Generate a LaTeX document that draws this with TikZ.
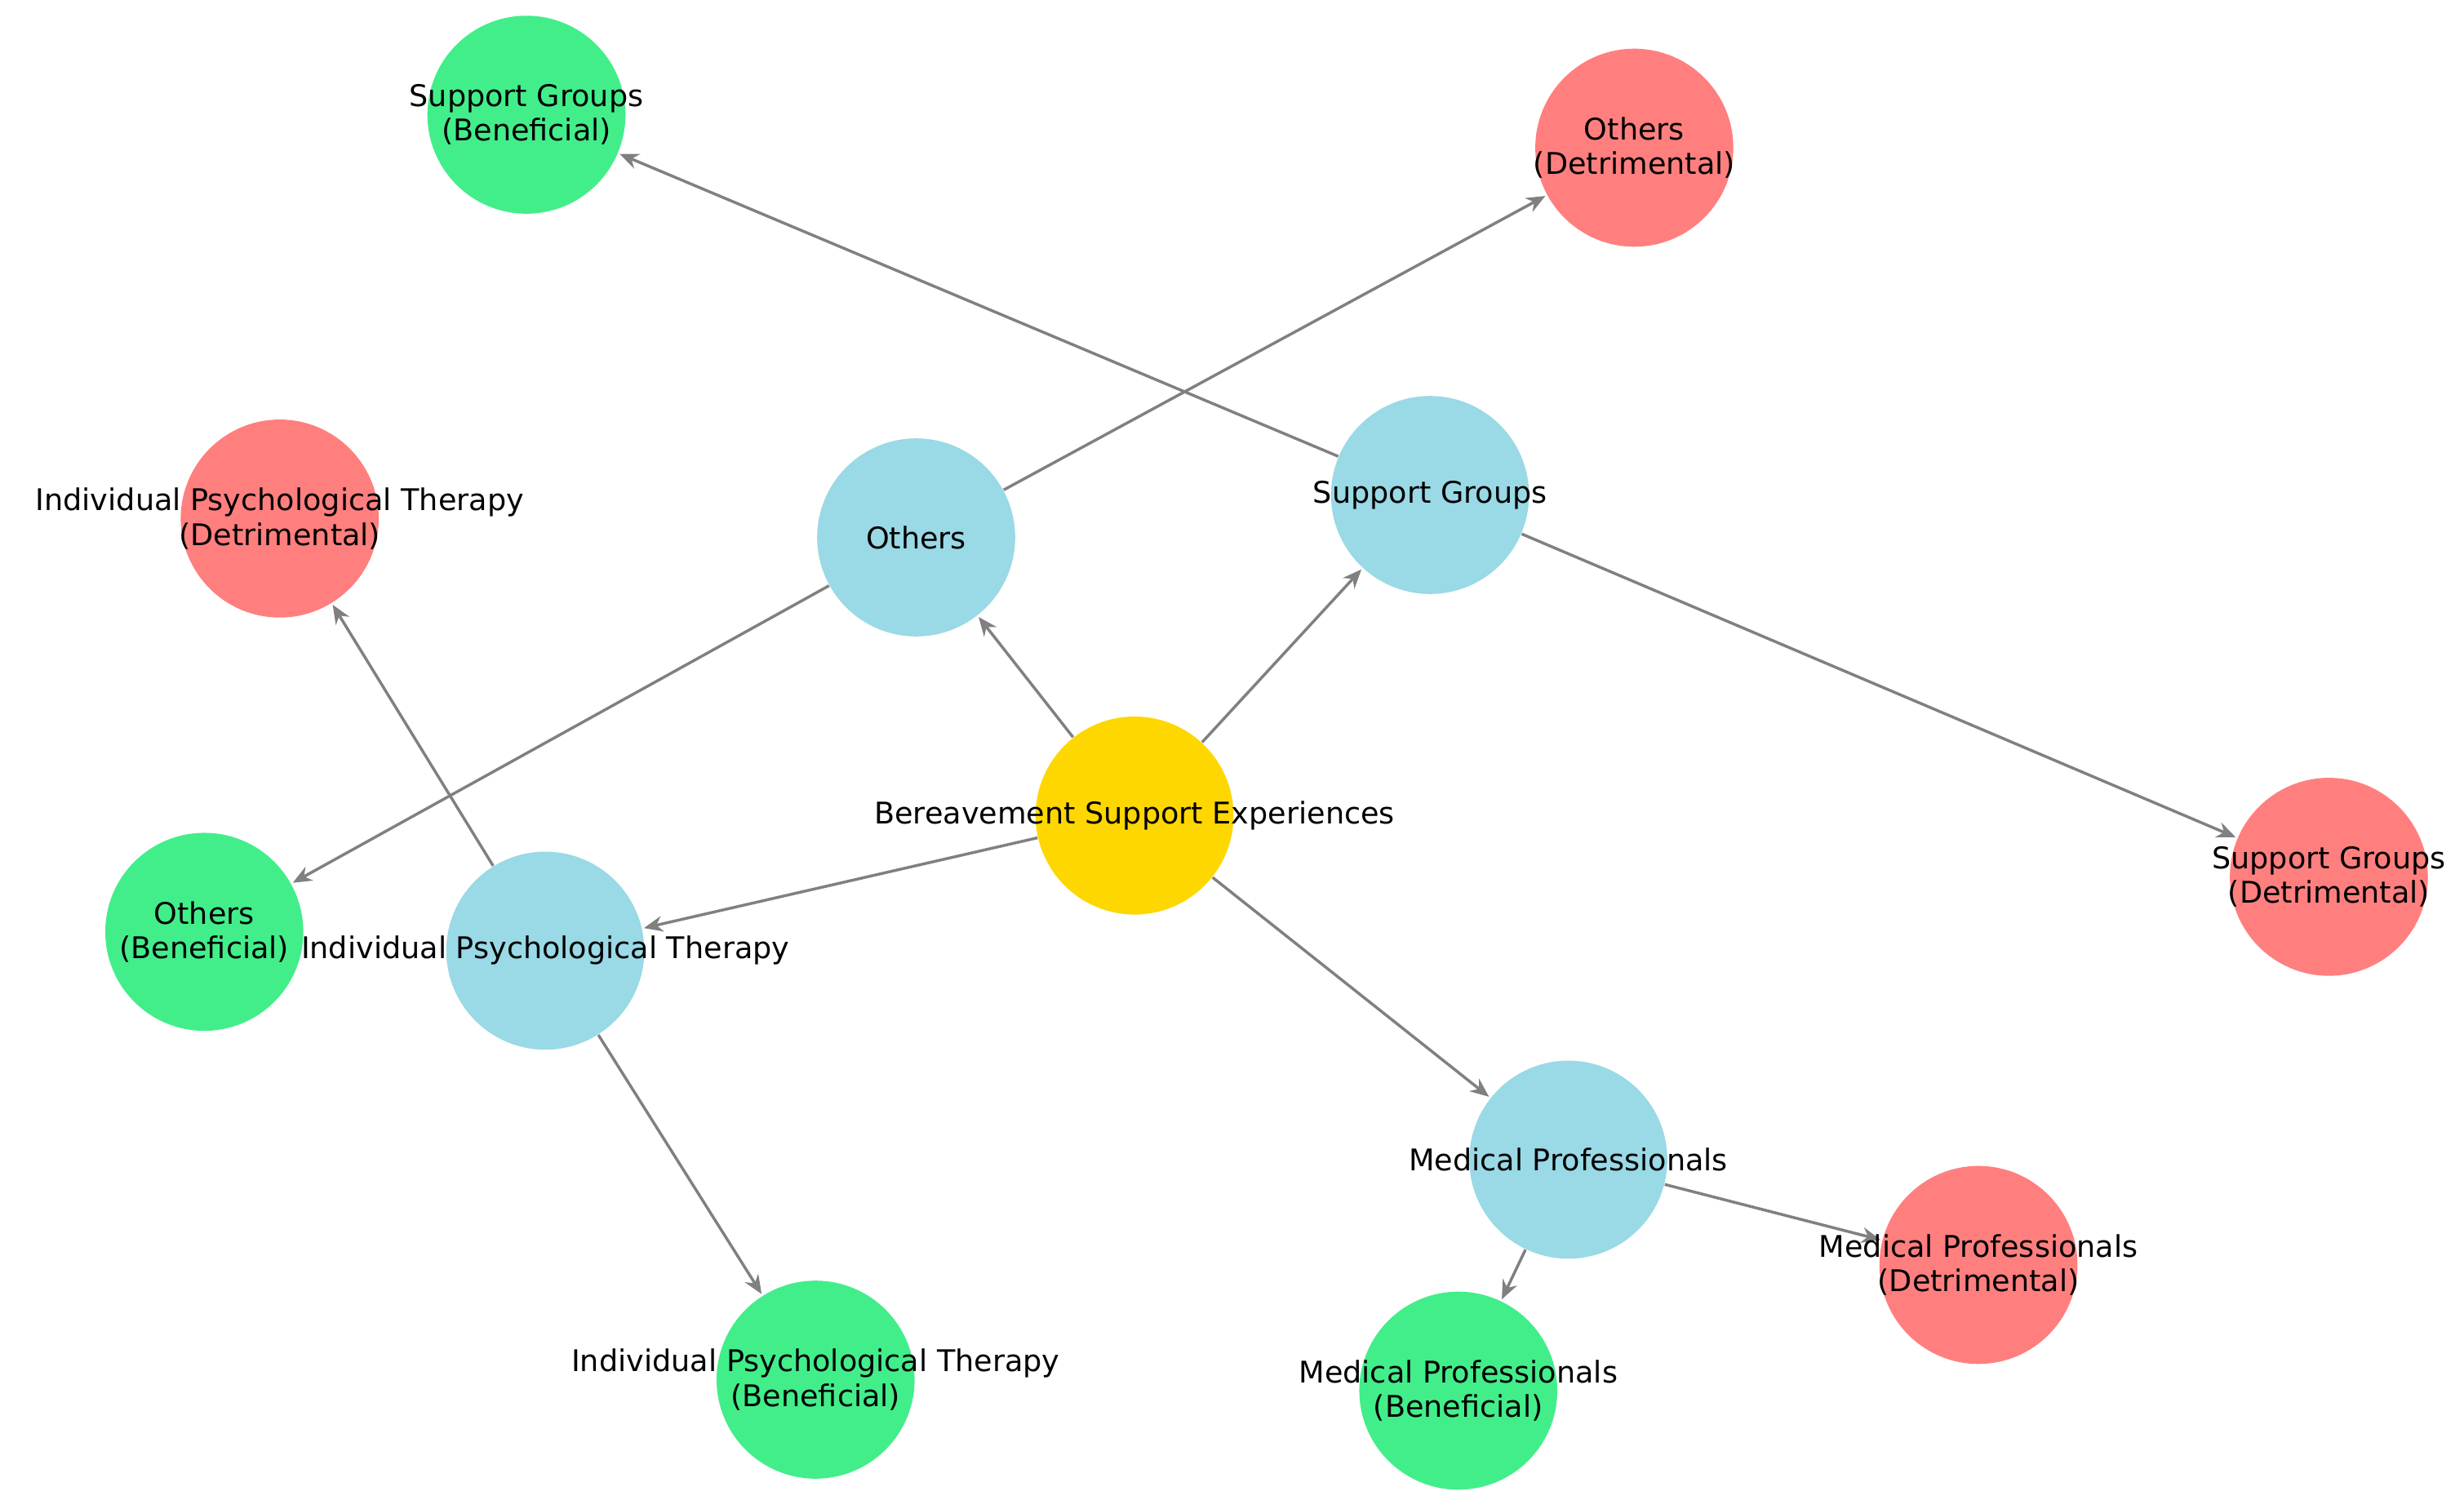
\documentclass[tikz,border=0pt]{standalone}
\usepackage{fontspec}
\setmainfont{DejaVu Sans}
\usetikzlibrary{arrows.meta}
\definecolor{cblue}{HTML}{9AD9E6}
\definecolor{cgold}{HTML}{FFD700}
\definecolor{cgreen}{HTML}{42EE8A}
\definecolor{cred}{HTML}{FF7F7F}
\begin{document}
\begin{tikzpicture}[x=0.5pt,y=-0.5pt,
  nd/.style={circle,minimum size=63pt,inner sep=0pt,draw=none},
  lb/.style={font=\fontsize{9.5pt}{11pt}\selectfont,align=center,inner sep=0pt},
  ed/.style={draw=gray,line width=0.9pt,-{Stealth[length=6pt,width=5pt]},shorten >=0.5pt}]
\useasboundingbox (0,0) rectangle (1568,960);
\fill[white] (0,0) rectangle (1568,960);
\node[nd,fill=cgold] (bse) at (722,519) {};
\node[nd,fill=cblue] (oth) at (583,342) {};
\node[nd,fill=cblue] (sg) at (910,315) {};
\node[nd,fill=cblue] (ipt) at (347,605) {};
\node[nd,fill=cblue] (mp) at (998,738) {};
\node[nd,fill=cgreen] (sgb) at (335,73) {};
\node[nd,fill=cred] (othd) at (1040,94) {};
\node[nd,fill=cred] (iptd) at (178,330) {};
\node[nd,fill=cgreen] (othb) at (130,593) {};
\node[nd,fill=cred] (sgd) at (1482,558) {};
\node[nd,fill=cgreen] (iptb) at (519,878) {};
\node[nd,fill=cgreen] (mpb) at (928,885) {};
\node[nd,fill=cred] (mpd) at (1259,805) {};
\draw[ed] (bse) -- (oth);
\draw[ed] (bse) -- (sg);
\draw[ed] (bse) -- (ipt);
\draw[ed] (bse) -- (mp);
\draw[ed] (oth) -- (othd);
\draw[ed] (oth) -- (othb);
\draw[ed] (sg) -- (sgb);
\draw[ed] (sg) -- (sgd);
\draw[ed] (ipt) -- (iptd);
\draw[ed] (ipt) -- (iptb);
\draw[ed] (mp) -- (mpb);
\draw[ed] (mp) -- (mpd);
\node[lb] (l1) at (bse) {Bereavement Support Experiences};
\node[lb] (l2) at (oth) {Others};
\node[lb] (l3) at (sg) {Support Groups};
\node[lb] (l4) at (ipt) {Individual Psychological Therapy};
\node[lb] (l5) at (mp) {Medical Professionals};
\node[lb] (l6) at (sgb) {Support Groups\\(Beneficial)};
\node[lb] (l7) at (othd) {Others\\(Detrimental)};
\node[lb] (l8) at (iptd) {Individual Psychological Therapy\\(Detrimental)};
\node[lb] (l9) at (othb) {Others\\(Beneficial)};
\node[lb] (l10) at (sgd) {Support Groups\\(Detrimental)};
\node[lb] (l11) at (iptb) {Individual Psychological Therapy\\(Beneficial)};
\node[lb] (l12) at (mpb) {Medical Professionals\\(Beneficial)};
\node[lb] (l13) at (mpd) {Medical Professionals\\(Detrimental)};
\end{tikzpicture}
\end{document}
